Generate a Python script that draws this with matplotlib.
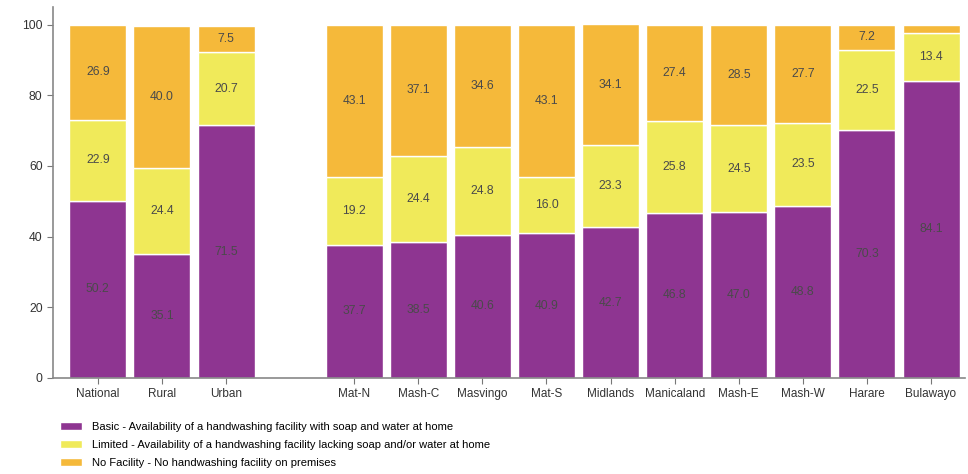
import matplotlib
matplotlib.use("Agg")
import matplotlib.pyplot as plt
import numpy as np

plt.rcParams['font.family'] = ['Liberation Sans', 'DejaVu Sans']

# categories (None = empty gap slot)
categories = ["National", "Rural", "Urban", None, "Mat-N", "Mash-C", "Masvingo", "Mat-S",
              "Midlands", "Manicaland", "Mash-E", "Mash-W", "Harare", "Bulawayo"]
basic = [50.2, 35.1, 71.5, None, 37.7, 38.5, 40.6, 40.9, 42.7, 46.8, 47.0, 48.8, 70.3, 84.1]
limited = [22.9, 24.4, 20.7, None, 19.2, 24.4, 24.8, 16.0, 23.3, 25.8, 24.5, 23.5, 22.5, 13.4]
no_facility = [26.9, 40.0, 7.5, None, 43.1, 37.1, 34.6, 43.1, 34.1, 27.4, 28.5, 27.7, 7.2, 2.5]

series_names = ["Basic - Availability of a handwashing facility with soap and water at home",
                "Limited - Availability of a handwashing facility lacking soap and/or water at home",
                "No Facility - No handwashing facility on premises"]
colors = ["#8E3591", "#F0EA5A", "#F5B93A"]

fig = plt.figure(figsize=(9.68, 4.74), dpi=100)
ax = fig.add_axes([53/968, 96/474, 912/968, 371/474])

idx = [i for i, c in enumerate(categories) if c is not None]
x = np.array(idx)
bottom = np.zeros(len(idx))
for vals, col, name in zip([basic, limited, no_facility], colors, series_names):
    v = np.array([vals[i] for i in idx])
    ax.bar(x, v, bottom=bottom, width=0.89, color=col, edgecolor="white", linewidth=1, label=name)
    for xi, b, h in zip(x, bottom, v):
        if h > 4:
            ax.text(xi, b + h / 2, f"{h:.1f}", ha="center", va="center", fontsize=8.7, color="#4a4a4a")
    bottom += v

ax.set_xticks(x)
ax.set_xticklabels([categories[i] for i in idx], fontsize=8.5, color="#333333")
ax.set_xlim(-0.7, 13.53)
ax.set_ylim(0, 105)
ax.set_yticks([0, 20, 40, 60, 80, 100])
ax.tick_params(axis="y", labelsize=8.7, colors="#333333")
ax.tick_params(color="#777777", length=4)
for s in ["top", "right"]:
    ax.spines[s].set_visible(False)
for s in ["left", "bottom"]:
    ax.spines[s].set_color("#888888")
    ax.spines[s].set_linewidth(1.2)

fig.legend(loc="upper left", bbox_to_anchor=(50/968, 1 - 412/474), frameon=False, fontsize=8,
           handlelength=2.0, handleheight=0.7, labelspacing=0.72, handletextpad=0.9)

fig.savefig("out.png", dpi=100)
